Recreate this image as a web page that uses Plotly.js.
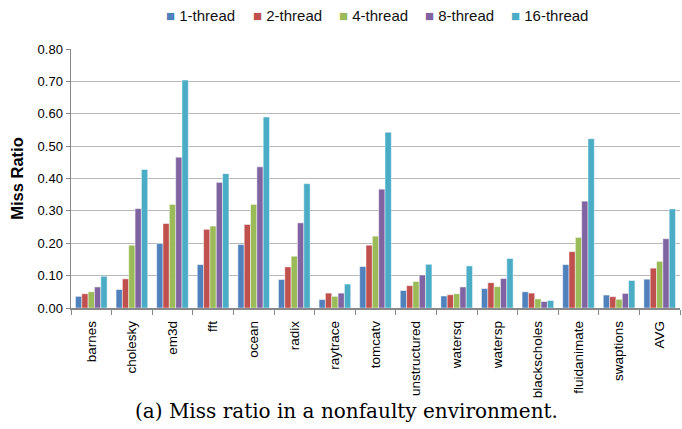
<!DOCTYPE html>
<html>
<head>
<meta charset="utf-8">
<script src="https://cdn.plot.ly/plotly-3.0.1.min.js"></script>
<style>html,body{margin:0;padding:0;background:#fff;}#chart{width:682px;height:429px;}</style>
</head>
<body>
<div id="chart"></div>
<script>
const categories = ["barnes","cholesky","em3d","fft","ocean","radix","raytrace","tomcatv","unstructured","watersq","watersp","blackscholes","fluidanimate","swaptions","AVG"];
const seriesNames = ["1-thread","2-thread","4-thread","8-thread","16-thread"];
const thread1  = [0.036,0.057,0.199,0.134,0.196,0.088,0.026,0.128,0.054,0.037,0.060,0.050,0.134,0.040,0.089];
const thread2  = [0.044,0.090,0.261,0.243,0.258,0.127,0.046,0.194,0.069,0.041,0.078,0.046,0.174,0.035,0.123];
const thread4  = [0.050,0.194,0.320,0.253,0.320,0.160,0.036,0.222,0.082,0.044,0.066,0.028,0.218,0.027,0.144];
const thread8  = [0.065,0.307,0.466,0.388,0.436,0.263,0.046,0.367,0.102,0.065,0.091,0.020,0.330,0.045,0.214];
const thread16 = [0.098,0.428,0.704,0.415,0.590,0.384,0.074,0.543,0.135,0.130,0.153,0.023,0.523,0.085,0.306];
const yTicks = [0,0.1,0.2,0.3,0.4,0.5,0.6,0.7,0.8];
const colors = ["#4F81BD","#C0504D","#9BBB59","#8064A2","#4BACC6"];
const allSeries = [thread1,thread2,thread4,thread8,thread16];

const traces = allSeries.map((vals,i)=>({
  type:'bar', name:seriesNames[i], x:categories, y:vals, showlegend:false,
  marker:{color:colors[i], line:{color:'rgba(255,255,255,0.8)', width:0.6}}
}));

const sans = '"Liberation Sans", Arial, sans-serif';
// compact legend (Excel-style) drawn as text
const legendLeft = [164,251,337,423,509];
const legendAnn = seriesNames.map((n,i)=>({
  text:'<span style="color:'+colors[i]+'">■</span> '+n,
  xref:'paper', yref:'paper', x:(legendLeft[i]-71)/609, y:1.131,
  xanchor:'left', yanchor:'middle', showarrow:false,
  font:{family:sans, size:15, color:'#111'}
}));

const layout = {
  width:682, height:429,
  margin:{l:71, r:2, t:49, b:121},
  paper_bgcolor:'#fff', plot_bgcolor:'#fff',
  barmode:'group', bargap:0.22, bargroupgap:0,
  font:{family:sans, color:'#000', size:13},
  showlegend:false,
  xaxis:{type:'category', tickson:'boundaries', ticks:'outside', ticklen:5, tickcolor:'#888',
    showline:true, linecolor:'#888', linewidth:1.5, tickangle:-90, ticklabelstandoff:6,
    tickfont:{family:sans, size:13.5, color:'#000'}, showgrid:false},
  yaxis:{range:[0,0.8], tickvals:yTicks, ticktext:yTicks.map(v=>v.toFixed(2)),
    showgrid:true, gridcolor:'#B8B8B8', gridwidth:1.2, zeroline:false,
    showline:true, linecolor:'#888', linewidth:1.5, ticks:'outside', ticklen:4, tickcolor:'#888',
    tickfont:{family:sans, size:13, color:'#000'},
    title:{text:'<b>Miss Ratio</b>', font:{family:sans, size:16.5, color:'#000'}, standoff:10}},
  annotations:legendAnn.concat([{text:'(a) Miss ratio in a nonfaulty environment.', xref:'paper', yref:'paper',
    x:0.452, y:-0.398, xanchor:'center', yanchor:'middle', showarrow:false,
    font:{family:'"DejaVu Serif", "Liberation Serif", serif', size:20, color:'#000'}}])
};
Plotly.newPlot('chart', traces, layout, {displayModeBar:false, staticPlot:true});
</script>
</body>
</html>
